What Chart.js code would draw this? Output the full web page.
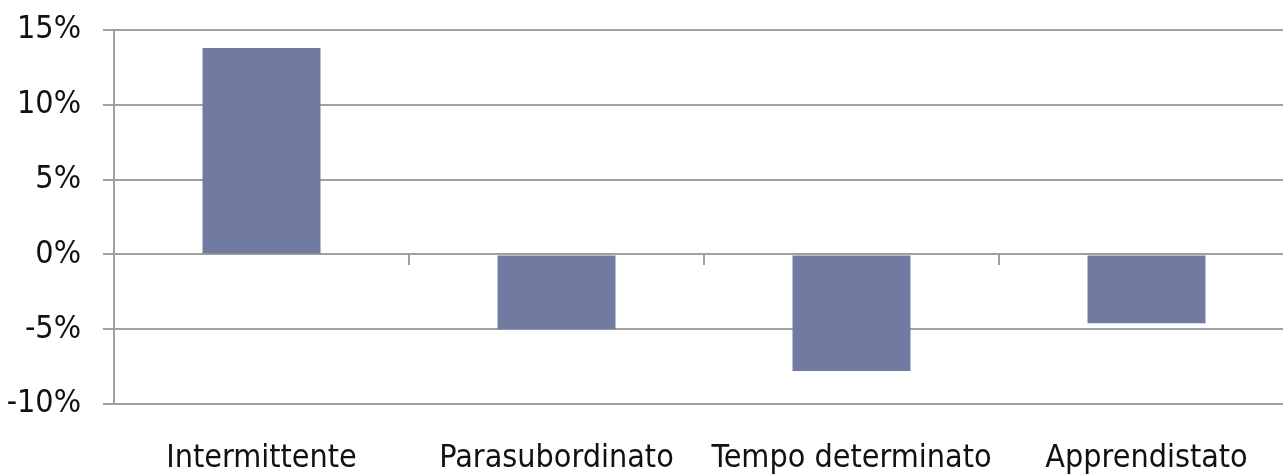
<!DOCTYPE html>
<html>
<head>
<meta charset="utf-8">
<script src="https://cdn.jsdelivr.net/npm/chart.js@4/dist/chart.umd.min.js"></script>
<style>
  html, body { margin: 0; padding: 0; background: #fff; overflow: hidden; }
  #wrap { width: 1294px; height: 475px; }
</style>
</head>
<body>
<div id="wrap"><canvas id="chart" width="1294" height="475"></canvas></div>
<script>
const categories = ['Intermittente', 'Parasubordinato', 'Tempo determinato', 'Apprendistato'];
const values = [13.8, -5.0, -7.8, -4.6];
const yTicks = [-10, -5, 0, 5, 10, 15];

const fontFamily = "'Liberation Sans Narrow', 'Arial Narrow', 'DejaVu Sans Condensed', sans-serif";
const gridColor = '#a0a0a0';

document.addEventListener('DOMContentLoaded', function () {
    const ctx = document.getElementById('chart').getContext('2d');

    new Chart(ctx, {
        type: 'bar',
        data: {
            labels: categories,
            datasets: [{
                data: values,
                backgroundColor: '#717ba1',
                borderWidth: 0,
                categoryPercentage: 1,
                barPercentage: 0.4
            }]
        },
        options: {
            responsive: false,
            animation: false,
            layout: { padding: { top: 29, right: 0, left: 0, bottom: 0 } },
            plugins: {
                legend: { display: false },
                tooltip: { enabled: false }
            },
            scales: {
                x: {
                    grid: { display: false },
                    border: { display: false },
                    ticks: {
                        color: '#111',
                        font: { family: fontFamily, size: 32 },
                        padding: 27,
                        maxRotation: 0,
                        autoSkip: false
                    },
                    afterFit: function (scale) { scale.height = 71; }
                },
                x2: {
                    axis: 'x',
                    type: 'category',
                    position: { y: 0 },
                    grid: {
                        drawOnChartArea: false,
                        offset: true,
                        tickLength: 11,
                        color: gridColor,
                        lineWidth: 2
                    },
                    border: { display: false },
                    ticks: { display: false }
                },
                y: {
                    min: -10,
                    max: 15,
                    afterBuildTicks: function (scale) {
                        scale.ticks = yTicks.map(v => ({ value: v }));
                    },
                    grid: {
                        color: gridColor,
                        lineWidth: 2,
                        tickLength: 11
                    },
                    border: { display: true, color: gridColor, width: 2 },
                    ticks: {
                        color: '#111',
                        font: { family: fontFamily, size: 32, lineHeight: 0.5 },
                        padding: 22,
                        callback: function (value) { return value + '%'; }
                    },
                    afterFit: function (scale) { scale.width = 114; }
                }
            }
        }
    });
});
</script>
</body>
</html>
